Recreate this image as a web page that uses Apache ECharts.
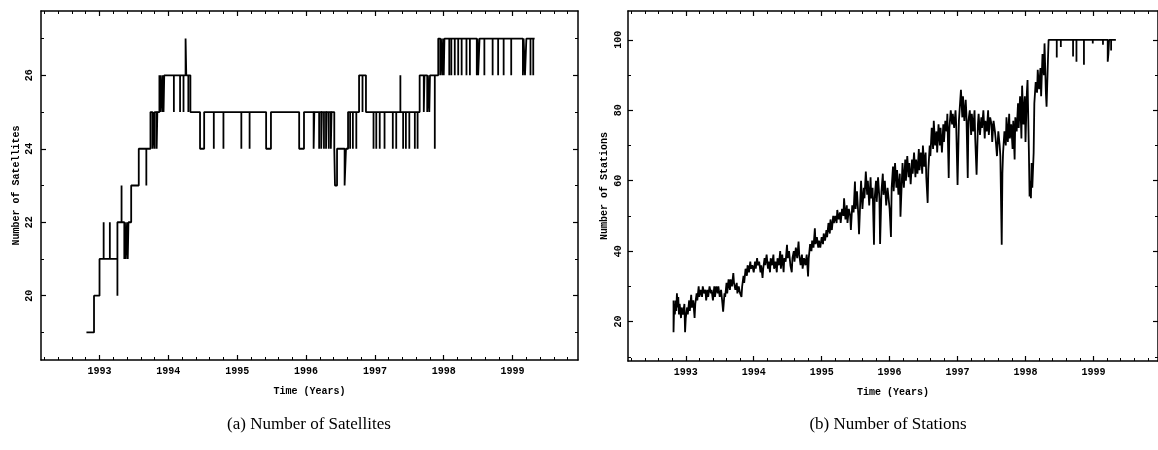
<!DOCTYPE html>
<html>
<head>
<meta charset="utf-8">
<script src="https://cdn.jsdelivr.net/npm/echarts@6/dist/echarts.min.js"></script>
<style>html,body{margin:0;padding:0;background:#fff}#c{width:1158px;height:450px}</style>
</head>
<body>
<div id="c"></div>
<script>
// ---- data ----
const yearTicks = [1993, 1994, 1995, 1996, 1997, 1998, 1999];
const satTicks = [20, 22, 24, 26];
const satMinorTicks = [19, 21, 23, 25, 27];
const stationTicks = [20, 40, 60, 80, 100];
const stationMinorTicks = [10, 30, 50, 70, 90];

// satellites: [year, count], step changes (value holds until next point)
const satellites = [
[1992.81,19],[1992.92,20],[1993.00,21],
[1993.06,22],[1993.06,21],[1993.15,22],[1993.15,21],
[1993.26,20],[1993.26,22],[1993.32,23],[1993.32,22],
[1993.36,21],[1993.37,22],[1993.38,21],[1993.40,22],[1993.41,21],[1993.42,22],
[1993.46,23],[1993.57,24],[1993.68,23],[1993.68,24],
[1993.74,25],[1993.77,24],[1993.78,25],[1993.80,24],[1993.80,25],[1993.83,24],[1993.84,25],
[1993.87,26],[1993.88,25],[1993.89,26],[1993.91,25],[1993.92,26],[1993.93,25],[1993.94,26],
[1994.08,25],[1994.08,26],[1994.17,25],[1994.17,26],[1994.22,25],[1994.22,26],
[1994.25,27],[1994.26,26],[1994.29,25],[1994.29,26],
[1994.32,25],[1994.46,24],[1994.52,25],[1994.66,24],[1994.66,25],[1994.80,24],[1994.80,25],
[1995.06,24],[1995.06,25],[1995.18,24],[1995.18,25],[1995.42,24],[1995.49,25],
[1995.90,24],[1995.97,25],[1996.11,24],[1996.12,25],
[1996.19,24],[1996.19,25],[1996.22,24],[1996.23,25],[1996.26,24],[1996.26,25],
[1996.29,24],[1996.30,25],[1996.33,24],[1996.33,25],[1996.36,24],[1996.37,25],
[1996.41,24],[1996.42,23],[1996.45,24],[1996.56,23],[1996.58,24],
[1996.61,25],[1996.64,24],[1996.64,25],[1996.68,24],[1996.68,25],[1996.73,24],[1996.73,25],
[1996.77,26],[1996.82,25],[1996.82,26],[1996.87,25],
[1996.98,24],[1996.98,25],[1997.02,24],[1997.02,25],[1997.07,24],[1997.07,25],[1997.14,24],[1997.14,25],
[1997.26,24],[1997.26,25],[1997.31,24],[1997.31,25],[1997.37,26],[1997.37,25],
[1997.41,24],[1997.41,25],[1997.45,24],[1997.45,25],[1997.50,24],[1997.50,25],
[1997.58,24],[1997.58,25],[1997.62,24],[1997.62,25],
[1997.65,26],[1997.71,25],[1997.72,26],[1997.76,25],[1997.77,26],[1997.79,25],[1997.80,26],
[1997.87,24],[1997.87,26],[1997.92,27],
[1997.95,26],[1997.96,27],[1997.98,26],[1997.99,27],[1998.00,26],[1998.01,27],
[1998.08,26],[1998.08,27],[1998.11,26],[1998.11,27],[1998.16,26],[1998.16,27],
[1998.21,26],[1998.21,27],[1998.26,26],[1998.26,27],[1998.33,26],[1998.33,27],
[1998.38,26],[1998.38,27],[1998.48,26],[1998.49,27],[1998.50,26],[1998.52,27],
[1998.59,26],[1998.59,27],[1998.71,26],[1998.71,27],[1998.79,26],[1998.79,27],
[1998.87,26],[1998.87,27],[1998.98,26],[1998.98,27],
[1999.15,26],[1999.16,27],[1999.18,26],[1999.20,27],[1999.26,26],[1999.26,27],
[1999.30,26],[1999.30,27],[1999.32,27]
];

// stations: [year, count]
const stations = [
[1992.82,26],[1992.82,17],[1992.83,25],[1992.84,22],[1992.85,26],[1992.86,23],[1992.87,28],[1992.88,24],
[1992.89,27],[1992.90,22],[1992.91,25],[1992.93,21],[1992.94,24],[1992.96,22],[1992.98,25],[1992.99,17],
[1993.00,21],[1993.02,24],[1993.03,22],[1993.05,26],[1993.06,23],[1993.08,27.6],[1993.09,24],[1993.11,26],
[1993.13,21],[1993.14,25],[1993.16,28],[1993.17,26],[1993.19,30],[1993.20,27],[1993.22,29],[1993.24,27],
[1993.25,30],[1993.27,28],[1993.29,29],[1993.30,26],[1993.32,29],[1993.33,27],[1993.35,30],[1993.37,28],
[1993.38,29],[1993.40,26],[1993.42,30],[1993.43,27],[1993.45,30],[1993.47,28],[1993.48,30],[1993.50,27],
[1993.52,29],[1993.54,25],[1993.55,22.8],[1993.57,28],[1993.58,27],[1993.60,31],[1993.61,28],[1993.63,32],
[1993.65,29],[1993.66,32],[1993.68,30],[1993.70,33.8],[1993.71,31],[1993.73,29],[1993.75,31],[1993.76,28],
[1993.78,30],[1993.80,28],[1993.82,27],[1993.83,30],[1993.85,33],[1993.86,31],[1993.88,35],[1993.90,33],
[1993.91,36],[1993.93,34],[1993.95,37],[1993.96,35],[1993.98,36],[1994.00,34],[1994.02,37],[1994.03,35],
[1994.05,38],[1994.06,36],[1994.08,37],[1994.10,34],[1994.11,36],[1994.13,32.4],[1994.14,35],[1994.16,38],
[1994.17,36],[1994.19,39],[1994.21,35],[1994.22,37],[1994.24,34],[1994.25,38],[1994.27,36],[1994.29,39],
[1994.30,35],[1994.32,37],[1994.34,34],[1994.35,38],[1994.37,36],[1994.39,40],[1994.40,35],[1994.42,39],
[1994.44,34],[1994.45,38],[1994.47,37],[1994.49,41.8],[1994.50,38],[1994.52,40],[1994.54,36],[1994.56,34],
[1994.57,38],[1994.59,40],[1994.60,37],[1994.62,41],[1994.64,38],[1994.66,42.7],[1994.67,39],[1994.69,36],
[1994.71,39],[1994.72,35],[1994.74,38],[1994.76,36],[1994.78,39],[1994.80,32.8],[1994.81,38],[1994.83,42],
[1994.85,40],[1994.86,43],[1994.88,41],[1994.90,46.5],[1994.91,42],[1994.93,44],[1994.95,41],[1994.96,43],
[1994.98,41],[1995.00,44],[1995.02,42],[1995.03,45],[1995.05,43],[1995.07,46],[1995.08,44],[1995.10,48],
[1995.12,45],[1995.13,49],[1995.15,46],[1995.17,50],[1995.18,48],[1995.20,50],[1995.22,48],[1995.23,51.7],
[1995.25,49],[1995.27,51],[1995.28,48],[1995.30,52],[1995.32,50],[1995.33,55],[1995.35,49],[1995.37,53],
[1995.38,48],[1995.40,52],[1995.42,50],[1995.43,46],[1995.45,53],[1995.47,51],[1995.49,59.8],[1995.50,52],
[1995.52,57],[1995.54,50],[1995.55,44.8],[1995.57,55],[1995.58,60],[1995.60,52],[1995.62,58],[1995.63,55],
[1995.65,62.6],[1995.67,56],[1995.68,60],[1995.70,53],[1995.72,61],[1995.73,55],[1995.75,58],[1995.77,41.8],
[1995.78,55],[1995.80,60],[1995.81,54],[1995.83,61],[1995.85,55],[1995.86,42],[1995.88,57],[1995.90,62],
[1995.91,56],[1995.93,60],[1995.95,53],[1995.97,58],[1996.00,52],[1996.02,44],[1996.03,58],[1996.05,64],
[1996.06,57],[1996.08,65],[1996.10,58],[1996.11,63],[1996.13,56],[1996.15,62],[1996.16,49.8],[1996.18,60],
[1996.19,65],[1996.21,58],[1996.23,66],[1996.24,60],[1996.26,67],[1996.28,61],[1996.29,65],[1996.31,59],
[1996.33,66],[1996.34,62],[1996.36,68],[1996.38,61],[1996.39,66],[1996.41,62],[1996.43,69],[1996.44,63],
[1996.46,68],[1996.48,62],[1996.49,70],[1996.51,64],[1996.53,68],[1996.54,61],[1996.56,53.7],[1996.57,63],
[1996.59,70],[1996.60,67],[1996.62,75],[1996.64,69],[1996.65,77],[1996.67,70],[1996.69,74],[1996.70,68],
[1996.72,76],[1996.74,70],[1996.75,75],[1996.77,68],[1996.79,76],[1996.80,71],[1996.82,77],[1996.84,74],
[1996.85,79],[1996.87,60.8],[1996.88,75],[1996.90,80],[1996.92,76],[1996.93,79],[1996.95,75],[1996.97,80],
[1996.98,76],[1997.00,58.8],[1997.02,77],[1997.03,80],[1997.05,85.8],[1997.07,78],[1997.08,84],[1997.10,77],
[1997.12,83],[1997.13,79],[1997.15,60.8],[1997.16,77],[1997.18,80],[1997.20,73],[1997.21,79],[1997.23,74],
[1997.25,80],[1997.26,72],[1997.28,61.7],[1997.30,76],[1997.31,79],[1997.33,73],[1997.35,78],[1997.36,75],
[1997.38,80],[1997.40,72],[1997.41,77],[1997.43,74],[1997.45,80],[1997.46,73],[1997.48,78],[1997.50,76],
[1997.51,71],[1997.53,77],[1997.55,74],[1997.56,72],[1997.58,67],[1997.60,74],[1997.62,70],[1997.63,67],
[1997.65,41.8],[1997.66,62],[1997.67,68],[1997.69,74],[1997.71,70],[1997.72,78],[1997.74,71],[1997.76,79],
[1997.77,72],[1997.79,76],[1997.81,69],[1997.82,77],[1997.84,66],[1997.85,78],[1997.87,74],[1997.89,82],
[1997.90,75],[1997.92,84],[1997.94,72],[1997.95,87],[1997.97,76],[1997.99,84],[1998.00,71],[1998.02,85],
[1998.03,88.6],[1998.05,68],[1998.06,55.5],[1998.07,60],[1998.08,55],[1998.09,65],[1998.10,58],[1998.12,68],
[1998.13,82],[1998.15,88],[1998.17,85],[1998.18,91.5],[1998.20,86],[1998.22,92],[1998.23,84],[1998.25,96],
[1998.27,90],[1998.28,99],[1998.30,85],[1998.31,81],[1998.33,94],[1998.34,100],
[1998.46,100],[1998.46,95],[1998.46,100],[1998.52,100],[1998.52,98],[1998.52,100],
[1998.70,100],[1998.70,95.3],[1998.70,100],[1998.75,100],[1998.75,93.8],[1998.75,100],
[1998.86,100],[1998.86,92.9],[1998.86,100],[1998.99,100],[1998.99,99],[1998.99,100],
[1999.14,100],[1999.14,98.6],[1999.14,100],[1999.21,100],[1999.21,93.8],[1999.22,96],[1999.23,100],
[1999.26,100],[1999.26,97],[1999.26,100],[1999.33,100]
];

// ---- chart ----
const xMin = 1992.15, xMax = 1999.95;
const xMinor = [];
for (let v = 1992.2; v < xMax; v += 0.2) xMinor.push(Math.round(v * 10) / 10);

const monoFont = '"Liberation Mono", "DejaVu Sans Mono", monospace';
const lineCol = '#000';
const plain = v => String(v);

function xAxes(g) {
  const base = {type: 'value', gridIndex: g, min: xMin, max: xMax, splitLine: {show: false}};
  return [
    Object.assign({}, base, {
      position: 'bottom',
      axisLine: {show: true, lineStyle: {color: lineCol, width: 1.5}},
      axisTick: {show: true, inside: true, length: 5, customValues: yearTicks, lineStyle: {color: lineCol, width: 1.2}},
      axisLabel: {show: true, customValues: yearTicks, formatter: plain, margin: 6, color: '#000', fontFamily: monoFont, fontWeight: 'bold', fontSize: 10},
      name: 'Time (Years)', nameLocation: 'middle', nameGap: 26,
      nameTextStyle: {color: '#000', fontFamily: monoFont, fontWeight: 'bold', fontSize: 10}
    }),
    Object.assign({}, base, {
      position: 'top',
      axisLine: {show: true, lineStyle: {color: lineCol, width: 1.5}},
      axisTick: {show: true, inside: true, length: 5, customValues: yearTicks, lineStyle: {color: lineCol, width: 1.2}},
      axisLabel: {show: false}
    }),
    Object.assign({}, base, {
      position: 'bottom', axisLine: {show: false},
      axisTick: {show: true, inside: true, length: 3, customValues: xMinor, lineStyle: {color: lineCol, width: 1}},
      axisLabel: {show: false}
    }),
    Object.assign({}, base, {
      position: 'top', axisLine: {show: false},
      axisTick: {show: true, inside: true, length: 3, customValues: xMinor, lineStyle: {color: lineCol, width: 1}},
      axisLabel: {show: false}
    })
  ];
}

function yAxes(g, min, max, majors, minors, name, nameGap, labelMargin) {
  const base = {type: 'value', gridIndex: g, min: min, max: max, splitLine: {show: false}};
  return [
    Object.assign({}, base, {
      position: 'left',
      axisLine: {show: true, lineStyle: {color: lineCol, width: 1.5}},
      axisTick: {show: true, inside: true, length: 5, customValues: majors, lineStyle: {color: lineCol, width: 1.2}},
      axisLabel: {show: true, customValues: majors, formatter: plain, rotate: 90, margin: labelMargin, color: '#000', fontFamily: monoFont, fontWeight: 'bold', fontSize: 10},
      name: name, nameLocation: 'middle', nameGap: nameGap,
      nameTextStyle: {color: '#000', fontFamily: monoFont, fontWeight: 'bold', fontSize: 10}
    }),
    Object.assign({}, base, {
      position: 'right',
      axisLine: {show: true, lineStyle: {color: lineCol, width: 1.5}},
      axisTick: {show: true, inside: true, length: 5, customValues: majors, lineStyle: {color: lineCol, width: 1.2}},
      axisLabel: {show: false}
    }),
    Object.assign({}, base, {
      position: 'left', axisLine: {show: false},
      axisTick: {show: true, inside: true, length: 3, customValues: minors, lineStyle: {color: lineCol, width: 1}},
      axisLabel: {show: false}
    }),
    Object.assign({}, base, {
      position: 'right', axisLine: {show: false},
      axisTick: {show: true, inside: true, length: 3, customValues: minors, lineStyle: {color: lineCol, width: 1}},
      axisLabel: {show: false}
    })
  ];
}

const chart = echarts.init(document.getElementById('c'), null, {renderer: 'canvas'});
chart.setOption({
  animation: false,
  backgroundColor: '#fff',
  grid: [
    {left: 41, top: 11, width: 537, height: 349},
    {left: 628, top: 11, width: 538, height: 350}
  ],
  xAxis: [].concat(xAxes(0), xAxes(1)),
  yAxis: [].concat(
    yAxes(0, 18.25, 27.75, satTicks, satMinorTicks, 'Number of Satellites', 20, 7),
    yAxes(1, 8.8, 108.2, stationTicks, stationMinorTicks, 'Number of Stations', 19, 5)
  ),
  series: [
    {type: 'line', xAxisIndex: 0, yAxisIndex: 0, step: 'end', data: satellites,
     showSymbol: false, symbol: 'none', lineStyle: {color: '#000', width: 1.8}},
    {type: 'line', xAxisIndex: 4, yAxisIndex: 4, data: stations,
     showSymbol: false, symbol: 'none', lineStyle: {color: '#000', width: 1.8}}
  ],
  graphic: [
    {type: 'text', x: 309, y: 425, style: {text: '(a) Number of Satellites', fill: '#000',
      font: '17px "Liberation Serif", "Times New Roman", serif', textAlign: 'center', textVerticalAlign: 'middle'}},
    {type: 'text', x: 888, y: 425, style: {text: '(b) Number of Stations', fill: '#000',
      font: '17px "Liberation Serif", "Times New Roman", serif', textAlign: 'center', textVerticalAlign: 'middle'}}
  ]
});
</script>
</body>
</html>
